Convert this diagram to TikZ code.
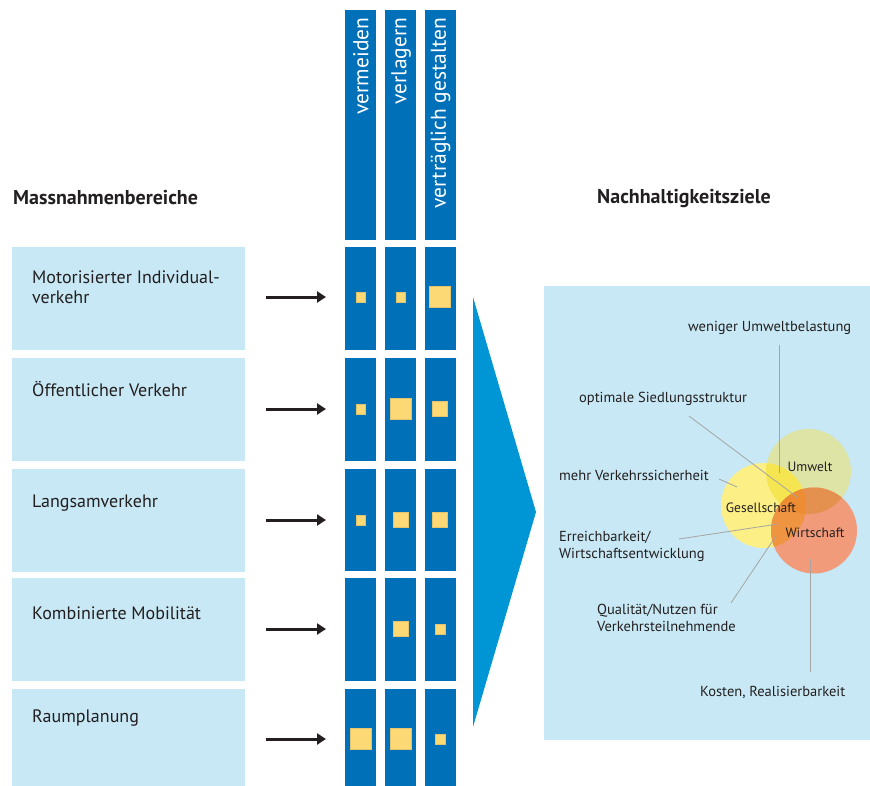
\documentclass[tikz,border=0pt]{standalone}
\usepackage{fontspec}
\setmainfont{PT Sans}
\usetikzlibrary{arrows.meta}
\definecolor{colblue}{RGB}{0,112,185}
\definecolor{lightbox}{RGB}{199,232,244}
\definecolor{triblue}{RGB}{0,150,214}
\definecolor{sqyellow}{RGB}{253,217,118}
\definecolor{sqedge}{RGB}{226,196,110}
\definecolor{txt}{RGB}{35,31,32}
\definecolor{leadgrey}{RGB}{165,165,165}
\definecolor{cU}{RGB}{221,228,166}
\definecolor{cG}{RGB}{252,239,134}
\definecolor{cW}{RGB}{241,155,122}
\definecolor{cUG}{RGB}{245,229,80}
\definecolor{cGW}{RGB}{239,148,65}
\definecolor{cUW}{RGB}{228,145,79}
\definecolor{cUGW}{RGB}{238,140,51}
\tikzset{
  leftbox/.style={fill=lightbox, draw=none, minimum width=233pt, minimum height=103pt, anchor=north west, inner sep=0pt},
  cell/.style={fill=colblue, draw=none, minimum width=31pt, anchor=north west, inner sep=0pt},
  sq/.style={fill=sqyellow, draw=sqedge, line width=0.5pt, inner sep=0pt, minimum size=#1},
  boxtext/.style={anchor=west, align=left, inner sep=0pt, text=txt, font=\fontsize{18}{20}\selectfont},
  heading/.style={anchor=west, inner sep=0pt, text=txt, font=\fontsize{20}{22}\selectfont\bfseries},
  coltext/.style={rotate=90, anchor=east, inner sep=0pt, text=white, font=\fontsize{21.5}{22}\selectfont},
  goal/.style={anchor=west, align=left, inner sep=0pt, text=txt, font=\fontsize{14.5}{17}\selectfont},
  circlabel/.style={inner sep=0pt, text=txt, font=\fontsize{13.5}{16}\selectfont},
  flow/.style={draw=txt, line width=3pt, -{Triangle[length=9pt,width=11pt]}},
  leader/.style={draw=leadgrey, line width=0.8pt},
}
\begin{document}
\begin{tikzpicture}[x=1pt,y=-1pt]
\useasboundingbox (0,0) rectangle (870,785);
% headings
\node[heading] (hleft) at (13,198) {Massnahmenbereiche};
\node[heading] (hright) at (597,199) {Nachhaltigkeitsziele};
% left boxes
\node[leftbox] (b1) at (12,247) {};
\node[leftbox] (b2) at (12,358) {};
\node[leftbox] (b3) at (12,469) {};
\node[leftbox] (b4) at (12,578) {};
\node[leftbox, minimum height=97pt] (b5) at (12,689) {};
\node[boxtext] (t1) at (32,287) {Motorisierter Individual-\\verkehr};
\node[boxtext] (t2) at (32,389) {Öffentlicher Verkehr};
\node[boxtext] (t3) at (32,503) {Langsamverkehr};
\node[boxtext] (t4) at (32,613) {Kombinierte Mobilität};
\node[boxtext] (t5) at (32,718) {Raumplanung};
% column headers
\node[cell, minimum height=230pt] (h1) at (345,9.5) {};
\node[cell, minimum height=230pt] (h2) at (385,9.5) {};
\node[cell, minimum height=230pt] (h3) at (424.5,10) {};
\node[coltext] (ht1) at (361,17.5) {vermeiden};
\node[coltext] (ht2) at (401,17.5) {verlagern};
\node[coltext] (ht3) at (440.5,17.5) {verträglich gestalten};
% cells
\foreach \r/\t/\h in {1/247/103, 2/358/103, 3/469/102, 4/578/103, 5/689/97}{
  \node[cell, minimum height=\h pt] (c\r a) at (345,\t) {};
  \node[cell, minimum height=\h pt] (c\r b) at (385,\t) {};
  \node[cell, minimum height=\h pt] (c\r c) at (424.5,\t) {};
}
% squares
\node[sq=9.5pt] (s1a) at (360.5,297) {};
\node[sq=9.5pt] (s1b) at (400.5,297) {};
\node[sq=21pt] (s1c) at (440,297) {};
\node[sq=9.5pt] (s2a) at (360.5,409) {};
\node[sq=21pt] (s2b) at (400.5,409) {};
\node[sq=15pt] (s2c) at (440,409) {};
\node[sq=9.5pt] (s3a) at (360.5,520) {};
\node[sq=15pt] (s3b) at (400.5,520) {};
\node[sq=15pt] (s3c) at (440,520) {};
\node[sq=15pt] (s4b) at (400.5,629) {};
\node[sq=9.5pt] (s4c) at (440,629) {};
\node[sq=21pt] (s5a) at (360.5,739) {};
\node[sq=21pt] (s5b) at (400.5,739) {};
\node[sq=9.5pt] (s5c) at (440,739) {};
% arrows
\foreach \r/\y in {1/297, 2/409, 3/520, 4/629, 5/739}{
  \coordinate (as\r) at (266,\y);
  \coordinate (ae\r) at (326,\y);
  \draw[flow] (as\r) -- (ae\r);
}
% triangle
\fill[triblue] (473,297) -- (536,512) -- (473,727) -- cycle;
% right box
\fill[lightbox] (544,286) rectangle (870,740);
% circles
\coordinate (cu) at (808.5,471.5);
\coordinate (cg) at (763.5,505.5);
\coordinate (cw) at (814,530.5);
\def\ru{42.5}\def\rg{42.5}\def\rw{43}
\fill[cU] (cu) circle[radius=\ru];
\fill[cG] (cg) circle[radius=\rg];
\fill[cW] (cw) circle[radius=\rw];
\begin{scope}
  \clip (cu) circle[radius=\ru];
  \fill[cUG] (cg) circle[radius=\rg];
  \fill[cUW] (cw) circle[radius=\rw];
\end{scope}
\begin{scope}
  \clip (cg) circle[radius=\rg];
  \fill[cGW] (cw) circle[radius=\rw];
\end{scope}
\begin{scope}
  \clip (cu) circle[radius=\ru];
  \clip (cg) circle[radius=\rg];
  \fill[cUGW] (cw) circle[radius=\rw];
\end{scope}
\node[circlabel] (lu) at (810,467) {Umwelt};
\node[circlabel] (lg) at (761,508) {Gesellschaft};
\node[circlabel] (lw) at (815,533) {Wirtschaft};
% goal labels
\node[goal] (g1) at (688,328) {weniger Umweltbelastung};
\node[goal] (g2) at (579,399) {optimale Siedlungsstruktur};
\node[goal] (g3) at (559,475) {mehr Verkehrssicherheit};
\node[goal] (g4) at (559,546.5) {Erreichbarkeit/\\Wirtschaftsentwicklung};
\node[goal] (g5) at (597,617.5) {Qualität/Nutzen für\\Verkehrsteilnehmende};
\node[goal] (g6) at (700,692) {Kosten, Realisierbarkeit};
% leader lines
\coordinate (l1a) at (779,345); \coordinate (l1b) at (779,473);
\coordinate (l2a) at (689,416); \coordinate (l2b) at (797,497);
\coordinate (l3a) at (719,479); \coordinate (l3b) at (737,487);
\coordinate (l4a) at (679,539); \coordinate (l4b) at (778,524);
\coordinate (l5a) at (731,603); \coordinate (l5b) at (776,536);
\coordinate (l6a) at (810,559); \coordinate (l6b) at (810,672);
\foreach \i in {1,...,6}{\draw[leader] (l\i a) -- (l\i b);}
\end{tikzpicture}
\end{document}
